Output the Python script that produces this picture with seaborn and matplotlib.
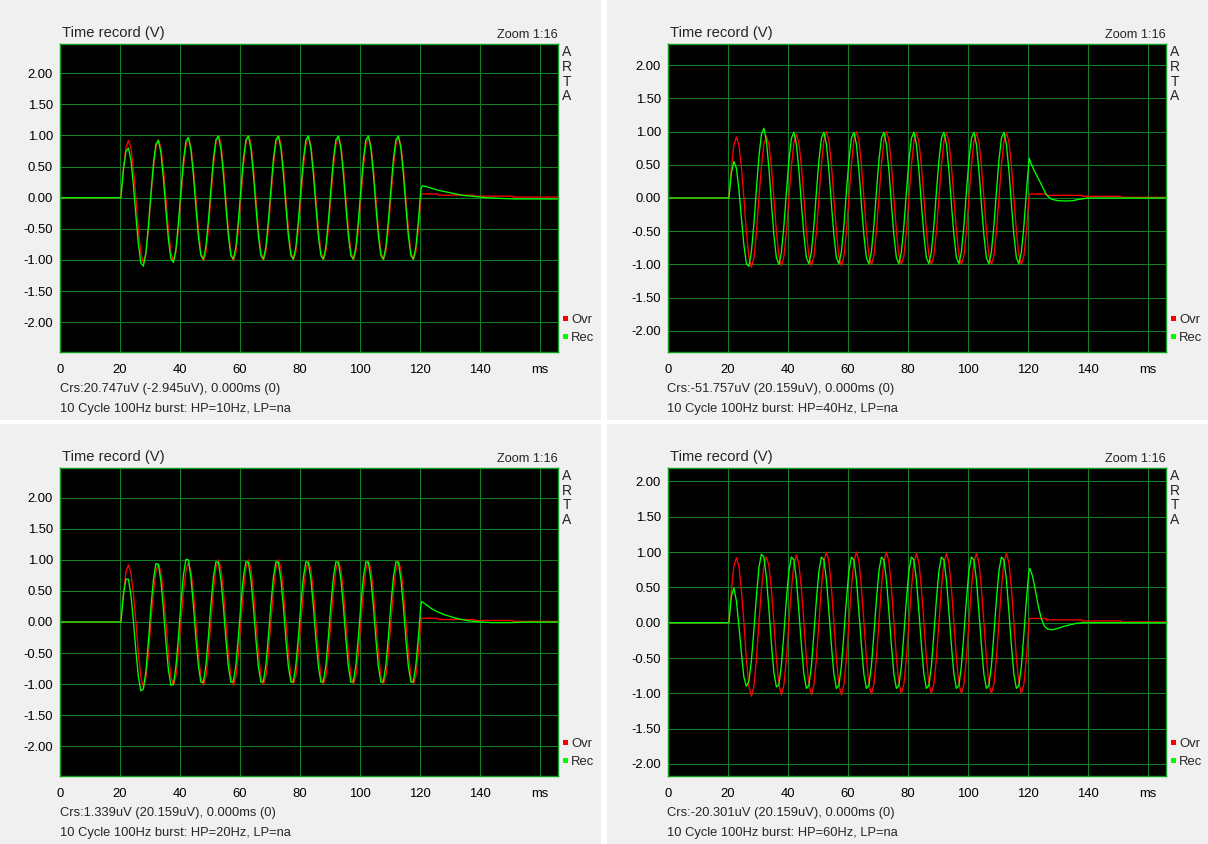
import numpy as np
import matplotlib
matplotlib.use("Agg")
import matplotlib.pyplot as plt
from matplotlib.patches import Rectangle
import seaborn as sns

# ---- data ----
# burst sample clock: 12 samples per 10 ms cycle, 20.3 .. 120.3 ms
t_burst = np.linspace(20.3, 120.3, 121)

# red "Ovr" trace (same in all four panels)
ovr = [
    0, 0.46, 0.80, 0.92, 0.80, 0.46, 0, -0.52, -0.90, -1.04, -0.90, -0.52,
    0, 0.47, 0.81, 0.93, 0.81, 0.47, 0, -0.51, -0.88, -1.02, -0.88, -0.51,
    0, 0.48, 0.83, 0.96, 0.83, 0.48, 0, -0.51, -0.88, -1.02, -0.88, -0.51,
    0, 0.50, 0.87, 1.00, 0.87, 0.50, 0, -0.51, -0.88, -1.02, -0.88, -0.51,
    0, 0.50, 0.87, 1.00, 0.87, 0.50, 0, -0.50, -0.87, -1.01, -0.87, -0.50,
    0, 0.50, 0.87, 1.00, 0.87, 0.50, 0, -0.50, -0.87, -1.00, -0.87, -0.50,
    0, 0.49, 0.85, 0.98, 0.85, 0.49, 0, -0.50, -0.87, -1.00, -0.87, -0.50,
    0, 0.49, 0.85, 0.98, 0.85, 0.49, 0, -0.50, -0.87, -1.00, -0.87, -0.50,
    0, 0.49, 0.85, 0.98, 0.85, 0.49, 0, -0.50, -0.87, -1.00, -0.87, -0.50,
    0, 0.49, 0.85, 0.98, 0.85, 0.49, 0, -0.50, -0.87, -1.00, -0.87, -0.50,
    0,
]
ovr_tail_t = [120.5, 126.0, 126.1, 138.0, 138.1, 151.0, 151.1, 166.0]
ovr_tail_v = [0.06, 0.06, 0.04, 0.04, 0.025, 0.025, 0.01, 0.01]

# green "Rec" traces, HP = 10 Hz
rec_hp10 = [
    0, 0.45, 0.74, 0.80, 0.61, 0.20, -0.29, -0.75, -1.05, -1.10, -0.89, -0.46,
    0.06, 0.54, 0.86, 0.92, 0.73, 0.31, -0.20, -0.67, -0.98, -1.04, -0.83, -0.41,
    0.11, 0.59, 0.91, 0.97, 0.77, 0.36, -0.15, -0.63, -0.93, -0.99, -0.79, -0.37,
    0.14, 0.62, 0.93, 0.99, 0.79, 0.37, -0.14, -0.62, -0.93, -0.99, -0.79, -0.37,
    0.14, 0.62, 0.93, 0.99, 0.79, 0.37, -0.14, -0.62, -0.93, -0.99, -0.79, -0.37,
    0.14, 0.62, 0.93, 0.99, 0.79, 0.37, -0.14, -0.62, -0.93, -0.99, -0.79, -0.37,
    0.14, 0.62, 0.93, 0.99, 0.79, 0.37, -0.14, -0.62, -0.93, -0.99, -0.79, -0.37,
    0.14, 0.62, 0.93, 0.99, 0.79, 0.37, -0.14, -0.62, -0.93, -0.99, -0.79, -0.37,
    0.14, 0.62, 0.93, 0.99, 0.79, 0.37, -0.14, -0.62, -0.93, -0.99, -0.79, -0.37,
    0.14, 0.62, 0.93, 0.99, 0.79, 0.37, -0.14, -0.62, -0.93, -0.99, -0.79, -0.37,
    0.14,
]
rec_hp10_tail_t = [120.8, 122, 124, 126, 128, 130, 132, 134, 136, 138, 140, 142, 146, 152, 166]
rec_hp10_tail_v = [0.19, 0.18, 0.15, 0.12, 0.10, 0.08, 0.06, 0.04, 0.03, 0.02, 0.01, 0.0, -0.01, -0.02, -0.02]

# HP = 40 Hz
rec_hp40 = [
    0, 0.38, 0.55, 0.45, 0.13, -0.30, -0.71, -0.99, -1.03, -0.81, -0.39, 0.13,
    0.62, 0.96, 1.05, 0.86, 0.45, -0.07, -0.56, -0.90, -1.00, -0.82, -0.42, 0.09,
    0.56, 0.90, 0.99, 0.81, 0.42, -0.09, -0.56, -0.90, -0.99, -0.81, -0.42, 0.09,
    0.56, 0.90, 0.99, 0.81, 0.42, -0.09, -0.56, -0.90, -0.99, -0.81, -0.42, 0.09,
    0.56, 0.90, 0.99, 0.81, 0.42, -0.09, -0.56, -0.90, -0.99, -0.81, -0.42, 0.09,
    0.56, 0.90, 0.99, 0.81, 0.42, -0.09, -0.56, -0.90, -0.99, -0.81, -0.42, 0.09,
    0.56, 0.90, 0.99, 0.81, 0.42, -0.09, -0.56, -0.90, -0.99, -0.81, -0.42, 0.09,
    0.56, 0.90, 0.99, 0.81, 0.42, -0.09, -0.56, -0.90, -0.99, -0.81, -0.42, 0.09,
    0.56, 0.90, 0.99, 0.81, 0.42, -0.09, -0.56, -0.90, -0.99, -0.81, -0.42, 0.09,
    0.56, 0.90, 0.99, 0.81, 0.42, -0.09, -0.56, -0.90, -0.99, -0.81, -0.42, 0.09,
    0.56,
]
rec_hp40_tail_t = [120.4, 121, 122, 123, 124, 125, 126, 127, 128, 130, 133, 135, 137, 140, 166]
rec_hp40_tail_v = [0.60, 0.52, 0.42, 0.33, 0.245, 0.15, 0.06, 0.01, -0.02, -0.04, -0.045, -0.04, -0.02, 0.0, 0.0]

# HP = 20 Hz
rec_hp20 = [
    0, 0.43, 0.69, 0.69, 0.44, 0.02, -0.47, -0.88, -1.11, -1.08, -0.79, -0.32,
    0.23, 0.68, 0.94, 0.93, 0.66, 0.20, -0.32, -0.77, -1.02, -1.00, -0.72, -0.25,
    0.29, 0.75, 1.01, 1.00, 0.72, 0.26, -0.27, -0.71, -0.97, -0.97, -0.70, -0.24,
    0.28, 0.72, 0.97, 0.96, 0.69, 0.24, -0.28, -0.72, -0.97, -0.96, -0.69, -0.24,
    0.28, 0.72, 0.97, 0.96, 0.69, 0.24, -0.28, -0.72, -0.97, -0.96, -0.69, -0.24,
    0.28, 0.72, 0.97, 0.96, 0.69, 0.24, -0.28, -0.72, -0.97, -0.96, -0.69, -0.24,
    0.28, 0.72, 0.97, 0.96, 0.69, 0.24, -0.28, -0.72, -0.97, -0.96, -0.69, -0.24,
    0.28, 0.72, 0.97, 0.96, 0.69, 0.24, -0.28, -0.72, -0.97, -0.96, -0.69, -0.24,
    0.28, 0.72, 0.97, 0.96, 0.69, 0.24, -0.28, -0.72, -0.97, -0.96, -0.69, -0.24,
    0.28, 0.72, 0.97, 0.96, 0.69, 0.24, -0.28, -0.72, -0.97, -0.96, -0.69, -0.24,
    0.28,
]
rec_hp20_tail_t = [120.6, 122, 124, 126, 128, 130, 132, 134, 136, 138, 140, 144, 150, 156, 166]
rec_hp20_tail_v = [0.33, 0.28, 0.21, 0.16, 0.12, 0.09, 0.06, 0.04, 0.02, 0.01, 0.0, -0.01, -0.01, 0.0, 0.0]

# HP = 60 Hz
rec_hp60 = [
    0, 0.38, 0.49, 0.31, -0.04, -0.43, -0.77, -0.90, -0.83, -0.54, -0.10, 0.37,
    0.78, 0.97, 0.93, 0.64, 0.19, -0.30, -0.71, -0.91, -0.88, -0.60, -0.15, 0.33,
    0.73, 0.93, 0.89, 0.61, 0.16, -0.32, -0.73, -0.93, -0.89, -0.61, -0.16, 0.32,
    0.73, 0.93, 0.89, 0.61, 0.16, -0.32, -0.73, -0.93, -0.89, -0.61, -0.16, 0.32,
    0.73, 0.93, 0.89, 0.61, 0.16, -0.32, -0.73, -0.93, -0.89, -0.61, -0.16, 0.32,
    0.73, 0.93, 0.89, 0.61, 0.16, -0.32, -0.73, -0.93, -0.89, -0.61, -0.16, 0.32,
    0.73, 0.93, 0.89, 0.61, 0.16, -0.32, -0.73, -0.93, -0.89, -0.61, -0.16, 0.32,
    0.73, 0.93, 0.89, 0.61, 0.16, -0.32, -0.73, -0.93, -0.89, -0.61, -0.16, 0.32,
    0.73, 0.93, 0.89, 0.61, 0.16, -0.32, -0.73, -0.93, -0.89, -0.61, -0.16, 0.32,
    0.73, 0.93, 0.89, 0.61, 0.16, -0.32, -0.73, -0.93, -0.89, -0.61, -0.16, 0.32,
    0.73,
]
rec_hp60_tail_t = [120.6, 121.5, 122.5, 123.5, 124.5, 125.5, 126.5, 128, 130, 132, 134, 136, 138, 166]
rec_hp60_tail_v = [0.77, 0.66, 0.45, 0.22, 0.05, -0.05, -0.09, -0.10, -0.08, -0.05, -0.03, -0.01, 0.0, 0.0]

x_ticks = [0, 20, 40, 60, 80, 100, 120, 140, 160]
x_tick_labels = ["0", "20", "40", "60", "80", "100", "120", "140", "ms"]
y_ticks = [2.0, 1.5, 1.0, 0.5, 0.0, -0.5, -1.0, -1.5, -2.0]
y_tick_labels = ["2.00", "1.50", "1.00", "0.50", "0.00", "-0.50", "-1.00", "-1.50", "-2.00"]

crs_texts = [
    "Crs:20.747uV (-2.945uV), 0.000ms (0)",
    "Crs:-51.757uV (20.159uV), 0.000ms (0)",
    "Crs:1.339uV (20.159uV), 0.000ms (0)",
    "Crs:-20.301uV (20.159uV), 0.000ms (0)",
]
captions = [
    "10 Cycle 100Hz burst: HP=10Hz, LP=na",
    "10 Cycle 100Hz burst: HP=40Hz, LP=na",
    "10 Cycle 100Hz burst: HP=20Hz, LP=na",
    "10 Cycle 100Hz burst: HP=60Hz, LP=na",
]
rec_series = [rec_hp10, rec_hp40, rec_hp20, rec_hp60]
rec_tails = [
    (rec_hp10_tail_t, rec_hp10_tail_v),
    (rec_hp40_tail_t, rec_hp40_tail_v),
    (rec_hp20_tail_t, rec_hp20_tail_v),
    (rec_hp60_tail_t, rec_hp60_tail_v),
]
y_limits = [(-2.48, 2.47), (-2.32, 2.32), (-2.48, 2.48), (-2.17, 2.19)]

# ---- style ----
GRID = "#137f24"
FRAME = "#0f9a1c"
sns.set_style("dark", {"axes.facecolor": "black", "grid.color": GRID,
                       "axes.edgecolor": FRAME})
plt.rcParams["font.family"] = ["Liberation Sans", "DejaVu Sans"]

W, H = 1208, 844
fig = plt.figure(figsize=(W / 100, H / 100), dpi=100, facecolor="white")


def fx(x):
    return x / W


def fy(y):
    return 1 - y / H


panel_origins = [(0, 0), (608, 0), (0, 424), (608, 424)]

for i, (ox, oy) in enumerate(panel_origins):
    # light grey panel background
    fig.add_artist(Rectangle((fx(ox - 1 if ox else 0), fy(oy + 420)), 601 / W, 420 / H,
                             transform=fig.transFigure, facecolor="#f0f0f0",
                             edgecolor="none", zorder=-10))

    ax = fig.add_axes([fx(ox + 60), fy(oy + 352), 498 / W, 308 / H])

    t_ovr = np.concatenate([[0.0], t_burst, ovr_tail_t])
    v_ovr = np.concatenate([[0.0], ovr, ovr_tail_v])
    tail_t, tail_v = rec_tails[i]
    t_rec = np.concatenate([[0.0], t_burst, tail_t])
    v_rec = np.concatenate([[0.0], rec_series[i], tail_v])

    sns.lineplot(x=t_ovr, y=v_ovr, ax=ax, color="#ff0000", lw=0.95,
                 estimator=None, sort=False)
    sns.lineplot(x=t_rec, y=v_rec, ax=ax, color="#00ff00", lw=0.95,
                 estimator=None, sort=False)

    ax.set_xlim(0, 166)
    ax.set_ylim(*y_limits[i])
    ax.set_xticks(x_ticks)
    ax.set_xticklabels(x_tick_labels)
    ax.set_yticks(y_ticks)
    ax.set_yticklabels(y_tick_labels)
    ax.tick_params(length=0, labelsize=9.4, labelcolor="black")
    ax.tick_params(axis="x", pad=8.5)
    ax.tick_params(axis="y", pad=5)
    ax.grid(True, color=GRID, lw=0.8)
    ax.set_axisbelow(True)
    for sp in ax.spines.values():
        sp.set_color(FRAME)
        sp.set_linewidth(1.0)
    ax.set_xlabel("")
    ax.set_ylabel("")

    # header texts
    fig.text(fx(ox + 62), fy(oy + 37.5), "Time record (V)", fontsize=10.6,
             ha="left", va="baseline")
    fig.text(fx(ox + 558), fy(oy + 37.5), "Zoom 1:16", fontsize=9.2,
             ha="right", va="baseline")
    for j, letter in enumerate("ARTA"):
        fig.text(fx(ox + 567), fy(oy + 56.5 + 14.5 * j), letter, fontsize=10,
                 ha="center", va="baseline")

    # legend
    for j, (name, col) in enumerate([("Ovr", "#ff0000"), ("Rec", "#00ff00")]):
        yc = oy + 318.5 + 18 * j
        fig.add_artist(Rectangle((fx(ox + 563), fy(yc + 2.4)), 4.8 / W, 4.8 / H,
                                 transform=fig.transFigure, facecolor=col,
                                 edgecolor="none"))
        fig.text(fx(ox + 571), fy(yc + 4.7), name, fontsize=9.4,
                 ha="left", va="baseline")

    # footer texts
    fig.text(fx(ox + 59.5), fy(oy + 392), crs_texts[i], fontsize=9.3,
             ha="left", va="baseline")
    fig.text(fx(ox + 59.5), fy(oy + 412), captions[i], fontsize=9.3,
             ha="left", va="baseline")

fig.savefig("out.png", dpi=100, facecolor="white")
